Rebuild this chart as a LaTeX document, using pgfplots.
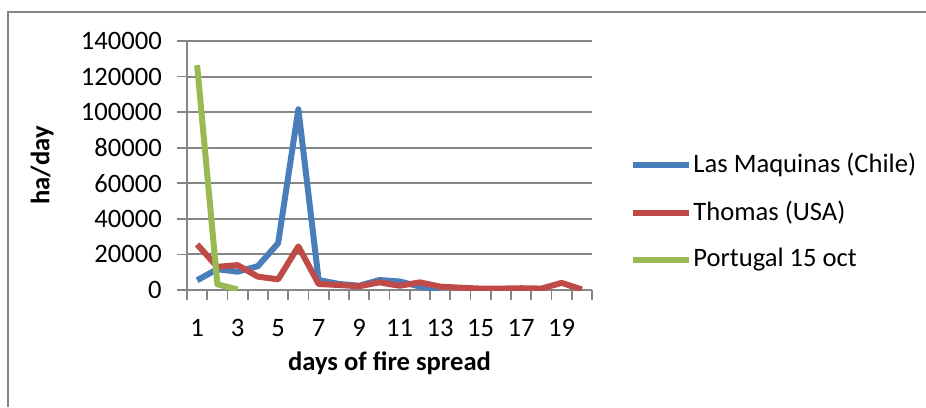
\documentclass[border=0pt]{standalone}
\usepackage{fontspec}
\setmainfont{Carlito}
\usepackage{pgfplots}
\pgfplotsset{compat=1.18}
\definecolor{chile}{RGB}{74,126,187}
\definecolor{usa}{RGB}{190,75,72}
\definecolor{port}{RGB}{152,185,84}
\definecolor{gridgray}{RGB}{134,134,134}
\begin{document}
\fontsize{13.3}{16}\selectfont
\begin{tikzpicture}
\useasboundingbox (0,0) rectangle (463pt,203.5pt);
\draw[gridgray, line width=1pt] (4pt,0) -- (4pt,197.5pt) -- (463pt,197.5pt);
\begin{axis}[
  at={(93.5pt,58.5pt)}, anchor=south west,
  width=202.5pt, height=124.5pt, scale only axis,
  xmin=0.5, xmax=20.5, ymin=0, ymax=140000,
  axis lines=left, axis line style={gridgray, line width=1pt, -},
  xtick={1,3,...,19}, major x tick style={draw=none},
  minor xtick={0.5,1.5,...,20.5},
  minor x tick style={gridgray, line width=0.8pt},
  minor tick length=5pt,
  ytick={0,20000,...,140000},
  major tick length=5pt,
  tick align=outside,
  ytick style={gridgray, line width=0.8pt},
  ymajorgrids, grid style={gridgray, line width=1pt},
  scaled y ticks=false,
  yticklabel={\pgfmathprintnumber[fixed,1000 sep={}]{\tick}},
  /pgf/number format/assume math mode=true,
  ticklabel style={font=\fontsize{13.3}{16}\selectfont},
  xticklabel style={yshift=-5pt},
  yticklabel style={xshift=-3pt},
  xlabel={\textbf{days of fire spread}},
  ylabel={\textbf{ha/day}},
  xlabel style={at={(axis description cs:0.5,-0.293)}, anchor=center},
  ylabel style={at={(axis description cs:-0.358,0.5)}, anchor=center},
  legend style={draw=none, fill=none, at={(rel axis cs:1.094,0.313)}, anchor=west,
    row sep=8pt, font=\fontsize{13.3}{16}\selectfont, inner xsep=0pt,
    nodes={inner xsep=0.5pt}},
  legend cell align=left,
  legend image code/.code={\draw[#1] (0pt,0pt) -- (28pt,0pt);},
  line join=round,
]
\addplot[chile, line width=3pt] coordinates {
 (1,5500) (2,11700) (3,10300) (4,13400) (5,26300) (6,101600) (7,5600)
 (8,3400) (9,2400) (10,5600) (11,4800) (12,1900) (13,0)};
\addlegendentry{Las Maquinas (Chile)}
\addplot[usa, line width=3pt] coordinates {
 (1,25600) (2,13000) (3,14000) (4,7500) (5,6000) (6,24500) (7,3400)
 (8,2800) (9,2100) (10,4300) (11,2400) (12,4300) (13,1900) (14,1300)
 (15,800) (16,800) (17,1000) (18,800) (19,4000) (20,300)};
\addlegendentry{Thomas (USA)}
\addplot[port, line width=3pt] coordinates {
 (1,126400) (2,3200) (3,300)};
\addlegendentry{Portugal 15 oct}
\end{axis}
\end{tikzpicture}
\end{document}
